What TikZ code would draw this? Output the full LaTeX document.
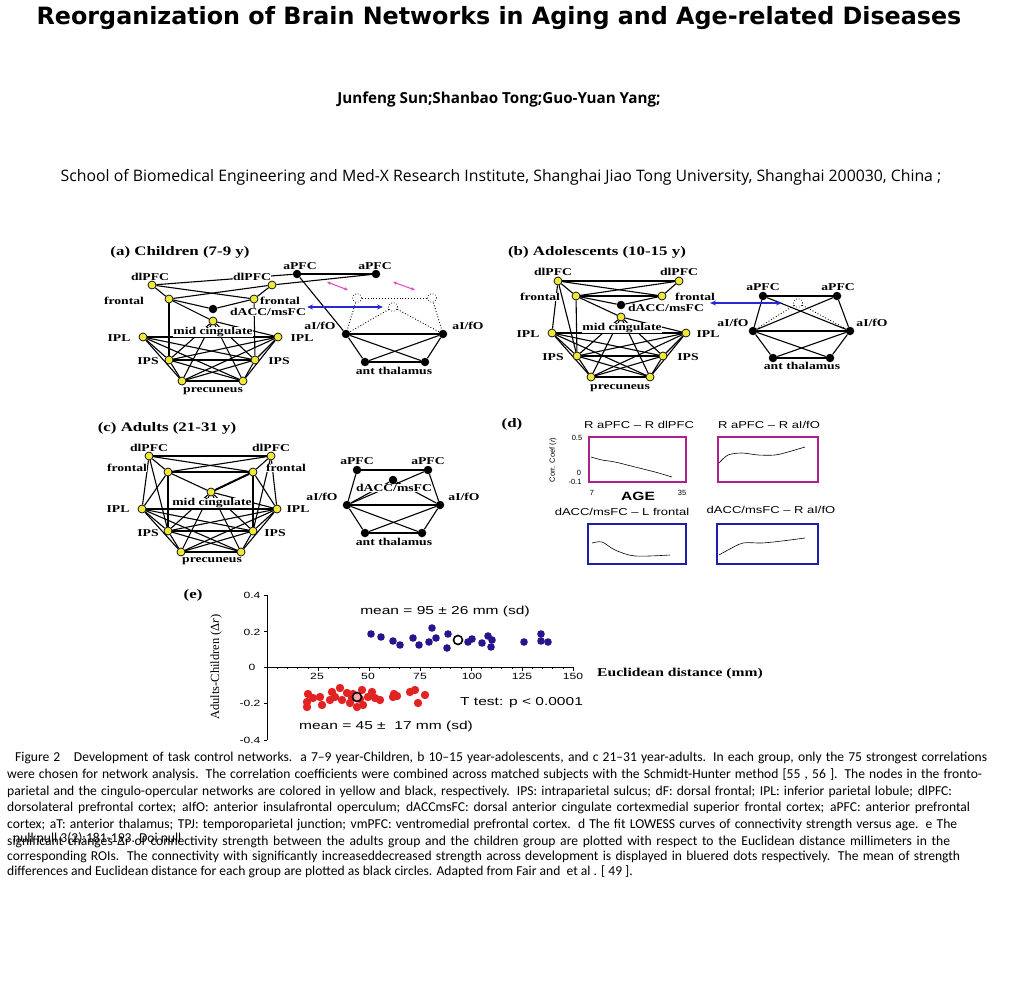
\documentclass[tikz,border=0pt]{standalone}
\usepackage{graphicx}
\usepackage{fontspec}
\setmainfont{Liberation Serif}
\newfontfamily\titlefont{DejaVu Sans}
\newfontfamily\headfont{Open Sans}
\newfontfamily\capfont{Carlito}
\newfontfamily\arialfont{Liberation Sans}
\usetikzlibrary{arrows.meta}
\pgfdeclarelayer{bg}
\pgfdeclarelayer{edges}
\pgfdeclarelayer{labels}
\pgfsetlayers{bg,edges,labels,main}
\definecolor{nodeyellow}{RGB}{238,232,60}
\definecolor{boxmag}{RGB}{176,32,140}
\definecolor{boxblue}{RGB}{30,30,170}
\definecolor{dotblue}{RGB}{40,20,140}
\definecolor{dotred}{RGB}{225,35,35}
\definecolor{arrblue}{RGB}{40,40,210}
\definecolor{arrpink}{RGB}{220,70,190}
\newcommand{\hs}[1]{\scalebox{1.3}[1]{#1}}
\newcommand{\hse}[1]{\scalebox{1.35}[1]{#1}}
\newcommand{\capline}[3]{\node[capl] (#1) at (#2) {#3};}
\begin{document}
\begin{tikzpicture}[x=1pt,y=-1pt,
  yn/.style={circle, fill=nodeyellow, draw=black, line width=0.7pt, minimum size=8pt, inner sep=0pt},
  bn/.style={circle, fill=black, minimum size=8.5pt, inner sep=0pt},
  dn/.style={circle, fill=white, draw=black, dotted, line width=0.7pt, minimum size=9pt, inner sep=0pt},
  lab/.style={font=\fontsize{10.5}{11}\selectfont\bfseries, fill=white, inner sep=0.4pt},
  ptitle/.style={font=\fontsize{13}{14}\selectfont\bfseries, inner sep=0pt},
  ed/.style={line width=1.1pt},
  dt/.style={dotted, line width=0.9pt},
  barr/.style={{Stealth[length=6pt,width=5pt]}-{Stealth[length=6pt,width=5pt]}, arrblue, line width=1.2pt},
  parr/.style={{Stealth[length=4pt,width=3.5pt]}-{Stealth[length=4pt,width=3.5pt]}, arrpink, line width=1pt},
  dlab/.style={font=\arialfont\fontsize{10}{11}\selectfont, inner sep=0pt},
  tlab/.style={font=\arialfont\fontsize{7.5}{8}\selectfont, inner sep=0pt},
  elab/.style={font=\arialfont\fontsize{11.5}{12}\selectfont, inner sep=0pt},
  etick/.style={font=\arialfont\fontsize{9}{10}\selectfont, inner sep=0pt},
  capl/.style={anchor=west, inner sep=0pt, font=\capfont\fontsize{13.6}{15}\selectfont},
]
\begin{pgfonlayer}{bg}
\fill[white] (0,0) rectangle (1024,1000);
\end{pgfonlayer}
\useasboundingbox (0,0) rectangle (1024,1000);

% ---------- header ----------
\node[font=\titlefont\bfseries\fontsize{23.8}{26}\selectfont, inner sep=0pt] (title) at (499,18) {Reorganization of Brain Networks in Aging and Age-related Diseases};
\node[font=\headfont\bfseries\fontsize{15.2}{17}\selectfont, inner sep=0pt] (authors) at (499,100) {Junfeng Sun;Shanbao Tong;Guo-Yuan Yang;};
\node[font=\headfont\fontsize{15.8}{18}\selectfont, inner sep=0pt] (affil) at (501,177) {School of Biomedical Engineering and Med-X Research Institute, Shanghai Jiao Tong University, Shanghai 200030, China ;};

% ---------- panel (a) ----------
\node[ptitle] (ta) at (180,252) {\hs{(a) Children (7-9 y)}};
\node[yn] (aDL) at (152,285) {};
\node[yn] (aDR) at (272,285) {};
\node[yn] (aFL) at (169,299) {};
\node[yn] (aFR) at (254,299) {};
\node[bn] (aDA) at (213,309) {};
\node[yn] (aMC) at (213,321) {};
\node[yn] (aIL) at (143,337) {};
\node[yn] (aIR) at (278,337) {};
\node[yn] (aSL) at (169,360) {};
\node[yn] (aSR) at (255,360) {};
\node[yn] (aPL) at (182,381) {};
\node[yn] (aPR) at (243,381) {};
\node[bn] (aAL) at (297,274) {};
\node[bn] (aAR) at (376,274) {};
\node[bn] (aOL) at (346,334) {};
\node[bn] (aOR) at (443,334) {};
\node[bn] (aTL) at (365,362) {};
\node[bn] (aTR) at (425,362) {};
\node[dn] (aX1) at (357,298) {};
\node[dn] (aX2) at (432,298) {};
\node[dn] (aX3) at (393,307) {};
\coordinate (aB1) at (307,307);
\coordinate (aB2) at (383,307);
\coordinate (aP1) at (327,282);
\coordinate (aP2) at (348,290);
\coordinate (aP3) at (393,282);
\coordinate (aP4) at (415,290);
\begin{pgfonlayer}{labels}
\node[lab] (laDL) at (150,277) {\hs{dlPFC}};
\node[lab] (laDR) at (252,277) {\hs{dlPFC}};
\node[lab] (laFL) at (124,301) {\hs{frontal}};
\node[lab] (laFR) at (280,301) {\hs{frontal}};
\node[lab] (laDA) at (268,312) {\hs{dACC/msFC}};
\node[lab] (laMC) at (213,332) {\hs{mid cingulate}};
\node[lab] (laIL) at (119,338) {\hs{IPL}};
\node[lab] (laIR) at (302,338) {\hs{IPL}};
\node[lab] (laSL) at (148,361) {\hs{IPS}};
\node[lab] (laSR) at (279,361) {\hs{IPS}};
\node[lab] (laP) at (213,391) {\hs{precuneus}};
\node[lab] (laAL) at (300,266) {\hs{aPFC}};
\node[lab] (laAR) at (375,266) {\hs{aPFC}};
\node[lab] (laOL) at (320,326) {\hs{aI/fO}};
\node[lab] (laOR) at (468,326) {\hs{aI/fO}};
\node[lab] (laT) at (394,371) {\hs{ant thalamus}};
\end{pgfonlayer}

% ---------- panel (b) ----------
\node[ptitle] (tb) at (597,252) {\hs{(b) Adolescents (10-15 y)}};
\node[yn] (bDL) at (558,281) {};
\node[yn] (bDR) at (679,281) {};
\node[yn] (bFL) at (576,296) {};
\node[yn] (bFR) at (662,296) {};
\node[bn] (bDA) at (621,305) {};
\node[yn] (bMC) at (621,317) {};
\node[yn] (bIL) at (552,333) {};
\node[yn] (bIR) at (686,333) {};
\node[yn] (bSL) at (577,356) {};
\node[yn] (bSR) at (663,356) {};
\node[yn] (bPL) at (591,377) {};
\node[yn] (bPR) at (650,377) {};
\node[bn] (bAL) at (763,296) {};
\node[bn] (bAR) at (837,296) {};
\node[bn] (bOL) at (753,331) {};
\node[bn] (bOR) at (850,331) {};
\node[bn] (bTL) at (773,358) {};
\node[bn] (bTR) at (830,358) {};
\node[dn] (bX) at (798,303) {};
\coordinate (bB1) at (710,303);
\coordinate (bB2) at (782,303);
\begin{pgfonlayer}{labels}
\node[lab] (lbDL) at (553,272) {\hs{dlPFC}};
\node[lab] (lbDR) at (679,272) {\hs{dlPFC}};
\node[lab] (lbFL) at (540,297) {\hs{frontal}};
\node[lab] (lbFR) at (695,297) {\hs{frontal}};
\node[lab] (lbDA) at (666,308) {\hs{dACC/msFC}};
\node[lab] (lbMC) at (622,328) {\hs{mid cingulate}};
\node[lab] (lbIL) at (528,334) {\hs{IPL}};
\node[lab] (lbIR) at (708,334) {\hs{IPL}};
\node[lab] (lbSL) at (553,357) {\hs{IPS}};
\node[lab] (lbSR) at (688,357) {\hs{IPS}};
\node[lab] (lbP) at (620,388) {\hs{precuneus}};
\node[lab] (lbAL) at (763,287) {\hs{aPFC}};
\node[lab] (lbAR) at (838,287) {\hs{aPFC}};
\node[lab] (lbOL) at (733,323) {\hs{aI/fO}};
\node[lab] (lbOR) at (872,323) {\hs{aI/fO}};
\node[lab] (lbT) at (802,366) {\hs{ant thalamus}};
\end{pgfonlayer}

% ---------- panel (c) ----------
\node[ptitle] (tc) at (167,428) {\hs{(c) Adults (21-31 y)}};
\node[yn] (cDL) at (149,456) {};
\node[yn] (cDR) at (271,456) {};
\node[yn] (cFL) at (168,472) {};
\node[yn] (cFR) at (253,472) {};
\node[yn] (cMC) at (211,492) {};
\node[yn] (cIL) at (142,509) {};
\node[yn] (cIR) at (277,509) {};
\node[yn] (cSL) at (168,531) {};
\node[yn] (cSR) at (253,531) {};
\node[yn] (cPL) at (181,552) {};
\node[yn] (cPR) at (241,552) {};
\node[bn] (cAL) at (357,470) {};
\node[bn] (cAR) at (428,470) {};
\node[bn] (cDA) at (393,480) {};
\node[bn] (cOL) at (347,505) {};
\node[bn] (cOR) at (440,505) {};
\node[bn] (cTL) at (365,533) {};
\node[bn] (cTR) at (422,533) {};
\begin{pgfonlayer}{labels}
\node[lab] (lcDL) at (149,448) {\hs{dlPFC}};
\node[lab] (lcDR) at (271,448) {\hs{dlPFC}};
\node[lab] (lcFL) at (127,468) {\hs{frontal}};
\node[lab] (lcFR) at (286,468) {\hs{frontal}};
\node[lab] (lcMC) at (212,503) {\hs{mid cingulate}};
\node[lab] (lcIL) at (118,509) {\hs{IPL}};
\node[lab] (lcIR) at (298,509) {\hs{IPL}};
\node[lab] (lcSL) at (148,533) {\hs{IPS}};
\node[lab] (lcSR) at (275,533) {\hs{IPS}};
\node[lab] (lcP) at (212,561) {\hs{precuneus}};
\node[lab] (lcAL) at (357,461) {\hs{aPFC}};
\node[lab] (lcAR) at (428,461) {\hs{aPFC}};
\node[lab] (lcDA) at (394,488) {\hs{dACC/msFC}};
\node[lab] (lcOL) at (322,497) {\hs{aI/fO}};
\node[lab] (lcOR) at (464,497) {\hs{aI/fO}};
\node[lab] (lcT) at (394,542) {\hs{ant thalamus}};
\end{pgfonlayer}

% ---------- edges ----------
\begin{pgfonlayer}{edges}
\foreach \p in {a,b,c}{
  \foreach \u/\v in {IL/IR, IL/SL, IL/SR, IL/PL, IL/PR, IR/SL, IR/SR, IR/PL, IR/PR, SL/SR, SL/PL, SL/PR, SR/PL, SR/PR, PL/PR, MC/SL, MC/SR, MC/PL, MC/PR, MC/IR}
    \draw[ed] (\p\u) -- (\p\v);
}
\foreach \u/\v in {aDL/aFL, aDL/aFR, aDR/aFL, aDR/aFR, aDL/aAL, aDR/aAR, aFL/aDA, aFR/aDA, aFL/aMC, aFL/aSL, aFR/aSR,
  aAL/aAR, aAL/aOL, aOL/aOR, aOL/aTL, aOL/aTR, aOR/aTL, aOR/aTR, aTL/aTR}
  \draw[ed] (\u) -- (\v);
\foreach \u/\v in {aX1/aX2, aX1/aOL, aX2/aOR, aX3/aOL, aX3/aOR}
  \draw[dt] (\u) -- (\v);
\foreach \u/\v in {bDL/bDR, bDL/bFR, bDR/bFL, bDL/bFL, bDR/bFR, bFL/bFR, bFL/bDA, bFR/bDA, bFL/bMC, bFL/bSL, bDL/bIL, bDL/bSL,
  bAL/bAR, bAL/bOL, bAR/bOR, bAL/bOR, bAR/bOL, bOL/bOR, bOL/bTL, bOL/bTR, bOR/bTL, bOR/bTR, bTL/bTR}
  \draw[ed] (\u) -- (\v);
\foreach \u/\v in {bX/bOL, bX/bOR}
  \draw[dt] (\u) -- (\v);
\foreach \u/\v in {cDL/cDR, cDL/cFR, cDR/cFL, cDL/cFL, cDR/cFR, cFL/cFR, cFL/cSL, cFR/cSR, cFL/cMC, cDL/cIL, cDL/cSL, cDR/cIR, cDR/cSR, cFL/cIL, cFR/cIR,
  cAL/cAR, cAL/cOL, cAR/cOR, cOL/cAR, cOL/cDA, cDA/cOR, cOL/cOR, cOL/cTL, cOL/cTR, cOR/cTL, cOR/cTR, cTL/cTR}
  \draw[ed] (\u) -- (\v);
\draw[line width=2pt] (cFR) -- (cMC);
\end{pgfonlayer}
\draw[barr] (aB1) -- (aB2);
\draw[parr] (aP1) -- (aP2);
\draw[parr] (aP3) -- (aP4);
\draw[barr] (bB1) -- (bB2);

% ---------- panel (d) ----------
\node[ptitle] (td) at (512,424) {\hs{(d)}};
\node[dlab] (d1t) at (639,425) {\hs{R aPFC – R dlPFC}};
\node[dlab] (d2t) at (769,425) {\hs{R aPFC – R aI/fO}};
\node[dlab] (d3t) at (622,512) {\hs{dACC/msFC – L frontal}};
\node[dlab] (d4t) at (771,510) {\hs{dACC/msFC – R aI/fO}};
\draw[boxmag, line width=2.5pt] (589,437) rectangle (686,482);
\draw[boxmag, line width=2.5pt] (718,437) rectangle (818,482);
\draw[boxblue, line width=2.5pt] (588,524) rectangle (686,564);
\draw[boxblue, line width=2.5pt] (717,524) rectangle (818,564);
\draw[line width=0.6pt] plot[smooth] coordinates {(591,457) (602,460) (615,462) (635,467) (655,472) (672,477)};
\draw[line width=0.6pt] plot[smooth] coordinates {(719,463) (728,455) (742,453) (758,455) (775,455) (788,452) (805,447)};
\draw[line width=0.6pt] plot[smooth] coordinates {(592,543) (602,542) (615,550) (635,556) (670,555)};
\draw[line width=0.6pt] plot[smooth] coordinates {(719,555) (728,550) (743,543) (762,543) (782,541) (805,538)};
\node[tlab, rotate=90] (dy) at (553,460) {Corr. Coef (\textit{r})};
\node[tlab] (d05) at (577,438) {0.5};
\node[tlab] (d0) at (579,473) {0};
\node[tlab] (dm1) at (575,482) {-0.1};
\node[tlab] (d7) at (592,493) {7};
\node[tlab] (d35) at (682,493) {35};
\node[font=\arialfont\bfseries\fontsize{12}{13}\selectfont, inner sep=0pt] (dage) at (638,496) {\hs{AGE}};

% ---------- panel (e) ----------
\node[ptitle] (te) at (193,595) {\hs{(e)}};
\draw[line width=0.6pt] (267,595) -- (267,740);
\draw[line width=0.6pt] (267,667) -- (573,667);
\foreach \y in {595,631,667,703,740} \draw[line width=0.6pt] (264,\y) -- (267,\y);
\foreach \i in {1,...,30} \draw[line width=0.4pt] ({267+\i*10.2},667) -- ({267+\i*10.2},669);
\foreach \i in {1,...,6} \draw[line width=0.6pt] ({267+\i*51},667) -- ({267+\i*51},671);
\node[etick] (e04) at (252,595) {\hse{0.4}};
\node[etick] (e02) at (252,632) {\hse{0.2}};
\node[etick] (e00) at (252,667) {\hse{0}};
\node[etick] (em2) at (250,703) {\hse{-0.2}};
\node[etick] (em4) at (250,740) {\hse{-0.4}};
\node[etick] (x25) at (317,676) {\hse{25}};
\node[etick] (x50) at (368,676) {\hse{50}};
\node[etick] (x75) at (420,676) {\hse{75}};
\node[etick] (x100) at (472,676) {\hse{100}};
\node[etick] (x125) at (522,676) {\hse{125}};
\node[etick] (x150) at (573,676) {\hse{150}};
\node[font=\fontsize{12}{13}\selectfont\bfseries, inner sep=0pt, anchor=west] (exl) at (597,674) {\scalebox{1.3}[1]{Euclidean distance (mm)}};
\node[font=\fontsize{12.5}{13}\selectfont, inner sep=0pt, rotate=90] (eyl) at (216,667) {Adults-Children (Δ\textit{r})};
\node[elab] (em95) at (445,612) {\hse{mean = 95 ± 26 mm (sd)}};
\node[elab] (em45) at (386,727) {\hse{mean = 45 ±\ \ 17 mm (sd)}};
\node[elab, anchor=west] (ett) at (460,703) {\hse{T test: p < 0.0001}};
\foreach \x/\y in {371/634, 381/637, 393/641, 400/645, 413/638, 419/645, 429/642, 432/628, 436/638, 447/648, 448/634, 468/642, 472/639, 482/643, 488/636, 491/647, 492/640, 524/642, 541/634, 541/641, 548/642}
  \fill[dotblue] (\x,\y) circle (3.8pt);
\foreach \x/\y in {308/694, 307/707, 313/698, 320/697, 322/705, 307/702, 332/692, 335/697, 330/700, 340/688, 342/700, 347/693, 350/703, 352/698, 362/690, 357/707, 363/705, 372/692, 375/698, 380/700, 368/697, 353/694, 360/699, 393/697, 397/696, 410/692, 415/690, 418/703, 425/695, 394/694}
  \fill[dotred] (\x,\y) circle (4.2pt);
\node[circle, draw=black, line width=1.6pt, fill=white, minimum size=9pt, inner sep=0pt] (embl) at (458,640) {};
\node[circle, draw=black, line width=1.6pt, fill=dotred!40, minimum size=9pt, inner sep=0pt] (emrd) at (357,697) {};

% ---------- caption ----------
\capline{c1}{15,758}{\makebox[972pt][s]{Figure 2\quad Development of task control networks.\ \ a 7–9 year-Children, b 10–15 year-adolescents, and c 21–31 year-adults. In each group, only the 75 strongest correlations}}
\capline{c2}{7,775}{\makebox[975pt][s]{were chosen for network analysis. The correlation coefficients were combined across matched subjects with the Schmidt-Hunter method [55 , 56 ]. The nodes in the fronto-}}
\capline{c3}{7,792}{\makebox[945pt][s]{parietal and the cingulo-opercular networks are colored in yellow and black, respectively. IPS: intraparietal sulcus; dF: dorsal frontal; IPL: inferior parietal lobule; dlPFC:}}
\capline{c4}{7,808}{\makebox[963pt][s]{dorsolateral prefrontal cortex; aIfO: anterior insulafrontal operculum; dACCmsFC: dorsal anterior cingulate cortexmedial superior frontal cortex; aPFC: anterior prefrontal}}
\capline{c5}{7,825}{\makebox[950pt][s]{cortex; aT: anterior thalamus; TPJ: temporoparietal junction; vmPFC: ventromedial prefrontal cortex. d The fit LOWESS curves of connectivity strength versus age. e The}}
\capline{c6}{7,842}{\makebox[943pt][s]{significant changes Δr of connectivity strength between the adults group and the children group are plotted with respect to the Euclidean distance millimeters in the}}
\capline{c6b}{13,838}{null null 3(2):181-193. Doi null}
\capline{c7}{7,857}{\makebox[953pt][s]{corresponding ROIs. The connectivity with significantly increaseddecreased strength across development is displayed in bluered dots respectively. The mean of strength}}
\capline{c8}{7,872}{differences and Euclidean distance for each group are plotted as black circles. Adapted from Fair and\ \ et al . [ 49 ].}
\end{tikzpicture}
\end{document}
